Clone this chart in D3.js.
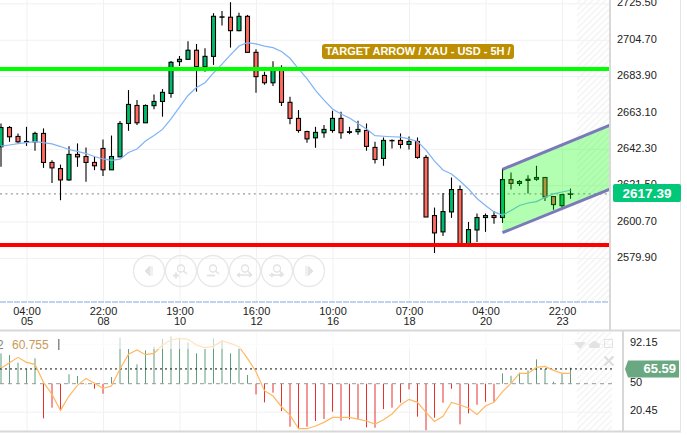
<!DOCTYPE html>
<html>
<head>
<meta charset="utf-8">
<style>
  html, body { margin: 0; padding: 0; background: #fff; overflow: hidden; }
  text { font-family: "Liberation Sans", Arial, sans-serif; }
</style>
<script src="https://cdn.jsdelivr.net/npm/d3@7"></script>
</head>
<body>
<div id="chart"></div>
<script>
// candles
const opens = [
  2643.5,2654.5,2649.4,2646.1,2646.3,2651.1,2634.5,2631.0,2624.5,2639.1,
  2637.9,2634.5,2642.5,2630.3,2637.7,2656.8,2667.1,2657.2,2667.0,2669.4,
  2674.0,2692.2,2693.5,2698.7,2689.3,2695.2,2717.6,2717.6,2709.9,2718.1,
  2697.5,2684.3,2680.1,2688.0,2668.9,2659.7,2652.2,2648.6,2651.5,2652.8,
  2659.7,2651.7,2652.1,2652.8,2643.1,2636.8,2646.9,2647.1,2644.8,2646.5,
  2637.4,2604.1,2594.8,2606.2,2619.0,2586.9,2595.9,2603.0,2604.1,2603.0,
  2624.7,2622.5,2624.2,2624.9,2625.9,2615.0,2609.8,2616.3
];
const highs = [
  2656.8,2655.3,2651.1,2654.9,2652.1,2654.0,2635.8,2633.3,2643.8,2645.4,
  2643.1,2637.7,2647.7,2649.9,2658.2,2675.9,2670.2,2667.7,2673.4,2676.5,
  2692.5,2695.4,2703.8,2702.3,2699.8,2719.9,2721.2,2726.2,2720.2,2718.9,
  2699.2,2686.4,2692.4,2690.1,2672.1,2664.5,2652.6,2654.9,2655.9,2664.1,
  2663.5,2654.9,2658.4,2656.8,2646.3,2648.8,2647.7,2651.1,2649.4,2648.8,
  2638.7,2608.7,2617.1,2625.9,2621.3,2600.5,2605.3,2605.3,2606.8,2631.0,
  2628.8,2624.4,2627.2,2632.6,2625.9,2615.0,2616.1,2619.6
];
const lows = [
  2632.0,2646.3,2645.8,2644.0,2641.2,2631.4,2622.8,2612.9,2624.0,2632.0,
  2623.4,2630.1,2626.8,2630.3,2637.7,2652.6,2655.9,2657.2,2665.0,2660.7,
  2671.5,2689.7,2693.5,2675.0,2686.4,2690.3,2712.8,2700.2,2709.5,2697.5,
  2674.4,2679.0,2678.2,2666.8,2656.4,2651.5,2645.8,2642.9,2648.6,2651.5,
  2648.0,2650.7,2650.3,2641.2,2633.9,2632.6,2642.5,2642.5,2641.9,2636.6,
  2603.3,2582.7,2592.5,2602.8,2586.9,2586.9,2589.0,2594.8,2599.5,2599.9,
  2619.0,2621.1,2616.7,2624.0,2612.5,2607.4,2608.3,2613.7
];
const closes = [
  2654.5,2649.2,2646.3,2646.5,2651.1,2634.5,2631.4,2624.5,2639.1,2637.7,
  2634.5,2632.6,2630.3,2637.9,2656.8,2667.7,2657.2,2667.1,2669.4,2674.6,
  2691.8,2693.5,2698.7,2689.3,2695.2,2718.1,2717.8,2709.9,2718.1,2697.5,
  2683.6,2680.1,2688.0,2668.9,2659.7,2652.8,2648.0,2651.7,2653.4,2659.7,
  2651.5,2652.1,2653.4,2643.7,2636.2,2647.1,2647.1,2644.8,2646.5,2637.4,
  2603.3,2594.2,2606.4,2619.0,2586.9,2596.1,2603.0,2604.1,2603.0,2624.7,
  2622.5,2623.6,2624.9,2625.9,2614.8,2610.4,2616.1,2616.5
];
const maValues = [
  2643.8,2644.5,2645.3,2645.9,2646.4,2645.9,2645.1,2643.6,2641.9,2640.8,
  2639.6,2637.9,2636.5,2635.7,2636.4,2640.2,2642.2,2646.8,2649.9,2653.4,
  2659.4,2666.2,2672.8,2677.4,2680.1,2685.7,2690.8,2696.0,2701.1,2703.0,
  2702.3,2701.1,2700.2,2698.0,2694.1,2688.0,2682.5,2675.7,2670.2,2665.1,
  2662.2,2659.9,2656.8,2653.6,2649.8,2649.5,2649.2,2649.0,2648.0,2646.5,
  2641.6,2635.3,2630.2,2627.9,2623.9,2619.3,2613.9,2609.9,2606.2,2604.4,
  2607.0,2609.9,2611.3,2612.1,2614.5,2616.5,2617.6,2618.6
];

// lower panel: histogram around 50 and the orange line
const oscBars = [
  82.0,80.3,72.2,65.5,76.8,13.4,24.7,22.2,59.9,58.1,
  49.3,44.7,39.4,57.0,98.6,86.6,70.4,85.2,89.1,97.2,
  100.0,97.9,93.6,82.0,86.6,97.9,96.1,82.0,87.3,59.2,
  38.7,30.3,40.5,21.1,4.6,2.1,4.6,10.6,12.7,20.4,
  10.9,12.3,12.7,3.9,3.5,23.2,24.7,29.9,44.0,15.2,
  0.7,14.1,29.9,44.7,7.1,18.7,27.8,31.0,31.0,60.9,
  58.4,61.6,64.1,75.7,65.5,52.1,60.9,66.9
];
const oscLine = [
  66.2,72.2,77.8,72.5,70.4,51.4,38.7,21.8,37.0,48.2,
  55.6,50.4,45.1,47.5,65.5,81.0,85.6,80.6,82.0,90.8,
  96.1,97.9,96.8,90.8,88.0,89.4,95.1,92.6,89.1,76.8,
  62.7,42.6,37.0,25.7,16.9,2.5,2.5,5.3,9.2,14.4,
  14.4,14.4,12.7,10.6,7.4,12.0,18.0,27.5,33.5,30.3,
  19.7,10.2,15.5,30.3,27.5,24.3,17.6,26.4,30.3,41.6,
  50.4,60.9,60.9,67.2,68.3,64.1,60.9,60.9
];

const priceTicks = [2725.5, 2704.7, 2683.9, 2663.1, 2642.3, 2621.5, 2600.7, 2579.9];
const oscTicks = [92.15, 50, 20.45];
const timeIndex = [3, 12, 21, 30, 39, 48, 57, 66];
const timeLabels = ["04:00", "22:00", "19:00", "16:00", "10:00", "07:00", "04:00", "22:00"];
const dayLabels = ["05", "08", "10", "12", "16", "18", "20", "23"];

const resistance = 2688.0;
const support = 2587.3;
const lastMark = 2616.5;
const lastLabel = "2617.39";
const oscLast = 65.59;
const channelIndex = [59, 71.85];
const channelUpper = [2630.6, 2656.3];
const channelLower = [2594.3, 2619.7];

const width = 687;
const height = 435;
const paneRight = 610;
const paneBottom = 302;
const hatchLeft = 577;

const svg = d3.select("#chart").append("svg")
  .attr("width", width)
  .attr("height", height)
  .style("display", "block");

const x = d3.scaleLinear().domain([0, 67]).range([1, 570.5]);
const y = d3.scaleLinear().domain([2725.5, 2579.9]).range([3.4, 257.9]);
const yOsc = d3.scaleLinear().domain([50, 20.45]).range([383.7, 411.7]);

const defs = svg.append("defs");
defs.append("clipPath").attr("id", "mainClip")
  .append("rect").attr("width", paneRight).attr("height", paneBottom);

const hatch = defs.append("pattern")
  .attr("id", "hatch")
  .attr("patternUnits", "userSpaceOnUse")
  .attr("width", 4.5)
  .attr("height", 4.5)
  .attr("patternTransform", "rotate(45)");
hatch.append("rect").attr("width", 1.4).attr("height", 4.5).attr("fill", "#f3f3f3");

// grid
function cleanGrid(g) {
  g.select(".domain").remove();
  g.selectAll("line").attr("stroke", "#f1f1f1");
}
svg.append("g").attr("transform", `translate(${paneRight},0)`)
  .call(d3.axisLeft(y).tickValues(priceTicks).tickSize(paneRight).tickFormat(""))
  .call(cleanGrid);
svg.append("g")
  .call(d3.axisBottom(x).tickValues(timeIndex).tickSize(paneBottom).tickFormat(""))
  .call(cleanGrid);
svg.append("g").attr("transform", "translate(0,331)")
  .call(d3.axisBottom(x).tickValues(timeIndex).tickSize(100).tickFormat(""))
  .call(cleanGrid);
svg.append("g").attr("transform", "translate(612,0)")
  .call(d3.axisLeft(yOsc).tickValues([92.15, 20.45]).tickSize(612).tickFormat(""))
  .call(cleanGrid);

// future zone
svg.append("rect")
  .attr("x", hatchLeft).attr("y", 0)
  .attr("width", paneRight - hatchLeft).attr("height", paneBottom)
  .attr("fill", "url(#hatch)");
svg.append("rect")
  .attr("x", hatchLeft).attr("y", 332)
  .attr("width", 612 - hatchLeft).attr("height", 98)
  .attr("fill", "url(#hatch)");

const main = svg.append("g").attr("clip-path", "url(#mainClip)");

// last price dots
main.append("line")
  .attr("x1", 0).attr("x2", paneRight)
  .attr("y1", y(lastMark)).attr("y2", y(lastMark))
  .attr("stroke", "#9a9a9a")
  .attr("stroke-width", 1.3)
  .attr("stroke-dasharray", "2,3.4");

// candles
const candle = main.selectAll(".candle")
  .data(d3.range(opens.length))
  .enter()
  .append("g")
  .attr("class", "candle");

candle.append("line")
  .attr("x1", i => x(i)).attr("x2", i => x(i))
  .attr("y1", i => y(highs[i])).attr("y2", i => y(lows[i]))
  .attr("stroke", "#000")
  .attr("stroke-width", 1.1);

candle.append("rect")
  .attr("x", i => x(i) - 2)
  .attr("width", 4)
  .attr("y", i => y(Math.max(opens[i], closes[i])))
  .attr("height", i => Math.abs(y(opens[i]) - y(closes[i])))
  .attr("fill", i => closes[i] >= opens[i] ? "#00b96b" : "#ff6b5e")
  .attr("stroke", "#000")
  .attr("stroke-width", 1.1);

// moving average
main.append("path")
  .datum(maValues)
  .attr("d", d3.line().x((d, i) => x(i)).y(d => y(d)))
  .attr("fill", "none")
  .attr("stroke", "#7fb3f5")
  .attr("stroke-width", 1.2);

// channel
const channelArea = d3.area()
  .x((d, i) => x(channelIndex[i]))
  .y0((d, i) => y(channelLower[i]))
  .y1((d, i) => y(channelUpper[i]));
const channelLine = d3.line().x((d, i) => x(channelIndex[i])).y(d => y(d));

main.append("path")
  .datum(channelIndex)
  .attr("d", channelArea)
  .attr("fill", "rgba(0,255,0,0.3)");
[channelUpper, channelLower].forEach(values => {
  main.append("path")
    .datum(values)
    .attr("d", channelLine)
    .attr("fill", "none")
    .attr("stroke", "#7a7ab9")
    .attr("stroke-width", 3);
});

// target lines
main.append("line")
  .attr("x1", 0).attr("x2", paneRight)
  .attr("y1", y(resistance)).attr("y2", y(resistance))
  .attr("stroke", "#00ff00").attr("stroke-width", 4);
main.append("line")
  .attr("x1", 0).attr("x2", paneRight)
  .attr("y1", y(support)).attr("y2", y(support))
  .attr("stroke", "#ff0000").attr("stroke-width", 4);

// note label
svg.append("rect")
  .attr("x", 322).attr("y", 44)
  .attr("width", 192).attr("height", 15)
  .attr("rx", 3)
  .attr("fill", "#bd8e00");
svg.append("text")
  .attr("x", 418).attr("y", 55)
  .attr("text-anchor", "middle")
  .attr("font-size", 11)
  .attr("font-weight", "bold")
  .attr("fill", "#fff")
  .text("TARGET ARROW / XAU - USD - 5H /");

// zoom buttons
const buttonX = [149, 181, 213, 245, 277, 309];
const buttonColor = "#e2e2e2";
const buttons = svg.append("g");
buttonX.forEach(cx => {
  buttons.append("circle")
    .attr("cx", cx).attr("cy", 271).attr("r", 15.5)
    .attr("fill", "none")
    .attr("stroke", "#e8e8e8")
    .attr("stroke-width", 1.3);
});
buttons.append("path")
  .attr("d", "M145,271l5,-5v10zM152,266v10")
  .attr("fill", buttonColor).attr("stroke", buttonColor);
buttons.append("path")
  .attr("d", "M313,271l-5,-5v10zM306,266v10")
  .attr("fill", buttonColor).attr("stroke", buttonColor);
[181, 213, 245, 277].forEach(cx => {
  buttons.append("circle")
    .attr("cx", cx).attr("cy", 268.5).attr("r", 3.5)
    .attr("fill", "none").attr("stroke", buttonColor).attr("stroke-width", 1.3);
  buttons.append("path")
    .attr("d", `M${cx + 2.5},271l3.5,3`)
    .attr("stroke", buttonColor).attr("stroke-width", 1.6);
});
buttons.append("path").attr("d", "M173,275.5h6M176,272.5v6")
  .attr("stroke", buttonColor).attr("stroke-width", 1.8);
buttons.append("path").attr("d", "M207,275.5h8")
  .attr("stroke", buttonColor).attr("stroke-width", 1.8);
buttons.append("path").attr("d", "M237,275h15M237,275l3,-2M237,275l3,2M252,275l-3,-2M252,275l-3,2")
  .attr("stroke", buttonColor).attr("stroke-width", 1.3).attr("fill", "none");
buttons.append("path").attr("d", "M269,275h15M274,275l-3,-2M274,275l-3,2M279,275l3,-2M279,275l3,2")
  .attr("stroke", buttonColor).attr("stroke-width", 1.3).attr("fill", "none");

// time axis
svg.append("line")
  .attr("x1", 0).attr("x2", paneRight)
  .attr("y1", paneBottom).attr("y2", paneBottom)
  .attr("stroke", "#7fa8e0")
  .attr("stroke-dasharray", "6,1");

const timeAxis = svg.append("g").attr("transform", `translate(0,${paneBottom})`)
  .call(d3.axisBottom(x).tickValues(timeIndex).tickSize(0).tickPadding(0)
    .tickFormat((d, i) => timeLabels[i]));
timeAxis.select(".domain").remove();
timeAxis.selectAll("text")
  .attr("y", 13)
  .attr("dy", 0)
  .attr("font-family", "Liberation Sans")
  .attr("font-size", 11)
  .attr("fill", "#222");
timeAxis.selectAll(".tick").append("text")
  .attr("y", 23)
  .attr("text-anchor", "middle")
  .attr("font-family", "Liberation Sans")
  .attr("font-size", 11)
  .attr("fill", "#222")
  .text((d, i) => dayLabels[i]);

// price axis
const priceAxis = svg.append("g").attr("transform", "translate(617,-1)")
  .call(d3.axisRight(y).tickValues(priceTicks).tickSize(0).tickPadding(0)
    .tickFormat(d3.format(".2f")));
priceAxis.select(".domain").remove();
priceAxis.selectAll("text")
  .attr("font-family", "Liberation Sans")
  .attr("font-size", 11)
  .attr("fill", "#222");

// lower panel
const osc = svg.append("g");
osc.selectAll(".osc-bar")
  .data(oscBars)
  .enter()
  .append("line")
  .attr("class", "osc-bar")
  .attr("x1", (d, i) => x(i)).attr("x2", (d, i) => x(i))
  .attr("y1", yOsc(50)).attr("y2", d => yOsc(d))
  .attr("stroke", d => d >= 50 ? "#5f9e7c" : "#e8302e")
  .attr("stroke-width", 1);

osc.append("line")
  .attr("x1", 0).attr("x2", 612)
  .attr("y1", yOsc(oscLast)).attr("y2", yOsc(oscLast))
  .attr("stroke", "#111")
  .attr("stroke-dasharray", "2,3");
osc.append("line")
  .attr("x1", 0).attr("x2", 612)
  .attr("y1", yOsc(50)).attr("y2", yOsc(50))
  .attr("stroke", "#999")
  .attr("stroke-dasharray", "4,4");

osc.append("path")
  .datum(oscLine)
  .attr("d", d3.line().x((d, i) => x(i)).y(d => yOsc(d)))
  .attr("fill", "none")
  .attr("stroke", "#ffb860")
  .attr("stroke-width", 1.2);

// legend strip fades the top of the panel
svg.append("rect")
  .attr("x", 0).attr("y", 331)
  .attr("width", 572).attr("height", 18)
  .attr("fill", "#fff")
  .attr("opacity", 0.6);

svg.append("text").attr("x", -3).attr("y", 349).attr("font-size", 12).attr("fill", "#888").text("2");
svg.append("text").attr("x", 12).attr("y", 349).attr("font-size", 12).attr("fill", "#c89a5a").text("60.755");
svg.append("rect").attr("x", 58).attr("y", 339).attr("width", 1.5).attr("height", 11).attr("fill", "#888");

// panel icons
const iconColor = "#e3e3e3";
svg.append("path")
  .attr("d", "M574,342h12l-6,7z")
  .attr("fill", iconColor);
svg.append("path")
  .attr("d", "M590,348a3,3 0 0 1 1,-5a4,4 0 0 1 7,0a3,3 0 0 1 1,5z")
  .attr("fill", iconColor);
svg.append("rect")
  .attr("x", 604.5).attr("y", 339.5).attr("width", 8).attr("height", 8)
  .attr("fill", "none").attr("stroke", iconColor);
svg.append("path")
  .attr("d", "M604.5,356.5l9,9M613.5,356.5l-9,9")
  .attr("stroke", "#dddddd").attr("stroke-width", 2);

const oscAxis = svg.append("g").attr("transform", "translate(630,-1.5)")
  .call(d3.axisRight(yOsc).tickValues(oscTicks).tickSize(0).tickPadding(0)
    .tickFormat(d => d));
oscAxis.select(".domain").remove();
oscAxis.selectAll("text")
  .attr("font-family", "Liberation Sans")
  .attr("font-size", 11)
  .attr("fill", "#222");

// panel borders
const borderColor = "#d8d8d8";
[[610, 0, 610, 330], [623, 330, 623, 432]].forEach(b => {
  svg.append("line")
    .attr("x1", b[0]).attr("y1", b[1]).attr("x2", b[2]).attr("y2", b[3])
    .attr("stroke", borderColor).attr("stroke-width", 2);
});
[[0, 330.5, 681, 330.5], [0, 431.5, 681, 431.5]].forEach(b => {
  svg.append("line")
    .attr("x1", b[0]).attr("y1", b[1]).attr("x2", b[2]).attr("y2", b[3])
    .attr("stroke", borderColor).attr("stroke-width", 2);
});
svg.append("line")
  .attr("x1", 680.5).attr("y1", 0).attr("x2", 680.5).attr("y2", 432)
  .attr("stroke", "#e4e4e4");

// last price tags
svg.append("path")
  .attr("d", "M613,186a2,2 0 0 1 2,-2h64a2,2 0 0 1 2,2v14a2,2 0 0 1 -2,2h-64a2,2 0 0 1 -2,-2z")
  .attr("fill", "#00c878");
svg.append("text")
  .attr("x", 647).attr("y", y(lastMark) + 4)
  .attr("text-anchor", "middle")
  .attr("font-size", 13.5)
  .attr("font-weight", "bold")
  .attr("fill", "#fff")
  .text(lastLabel);

svg.append("path")
  .attr("d", `M625,${yOsc(oscLast)}l3,-8.5h51v17h-51z`)
  .attr("fill", "#6aa882");
svg.append("text")
  .attr("x", 676).attr("y", yOsc(oscLast) + 4)
  .attr("text-anchor", "end")
  .attr("font-size", 13)
  .attr("font-weight", "bold")
  .attr("fill", "#fff")
  .text(oscLast);
</script>
</body>
</html>
